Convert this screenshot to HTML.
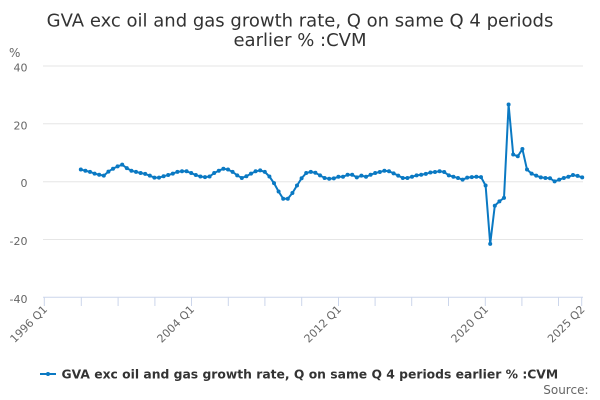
<!DOCTYPE html>
<html>
<head>
<meta charset="utf-8">
<style>
html,body{margin:0;padding:0;background:#fff;}
svg{display:block;}
text{font-family:"DejaVu Sans","Liberation Sans",sans-serif;}
</style>
</head>
<body>
<svg width="600" height="400" viewBox="0 0 600 400" xmlns="http://www.w3.org/2000/svg">
<defs>
<marker id="m" markerUnits="userSpaceOnUse" markerWidth="6" markerHeight="6" refX="3" refY="3" viewBox="0 0 6 6">
<circle cx="3" cy="3" r="2" fill="#0a79c3"/>
</marker>
</defs>
<rect width="600" height="400" fill="#fff"/>
<!-- title -->
<text x="300" y="26.5" text-anchor="middle" font-size="18" fill="#333">GVA exc oil and gas growth rate, Q on same Q 4 periods</text>
<text x="300" y="46" text-anchor="middle" font-size="18" fill="#333">earlier % :CVM</text>
<!-- y axis unit -->
<text x="9" y="57" font-size="12" fill="#666">%</text>
<!-- gridlines -->
<g stroke="#e6e6e6" stroke-width="1">
<line x1="43" y1="66" x2="583" y2="66"/>
<line x1="43" y1="123.8" x2="583" y2="123.8"/>
<line x1="43" y1="181.7" x2="583" y2="181.7"/>
<line x1="43" y1="239.5" x2="583" y2="239.5"/>
</g>
<!-- y labels -->
<g font-size="11" fill="#666" text-anchor="end">
<text x="27.5" y="71.5">40</text>
<text x="27.5" y="129.3">20</text>
<text x="27.5" y="187.2">0</text>
<text x="27.5" y="245">-20</text>
<text x="27.5" y="302.8">-40</text>
</g>
<!-- x axis -->
<line x1="43" y1="297.3" x2="583" y2="297.3" stroke="#ccd6eb" stroke-width="1"/>
<g stroke="#ccd6eb" stroke-width="1">
<line x1="44.3" y1="297" x2="44.3" y2="306"/>
<line x1="81.3" y1="297" x2="81.3" y2="306"/>
<line x1="118.1" y1="297" x2="118.1" y2="306"/>
<line x1="154.9" y1="297" x2="154.9" y2="306"/>
<line x1="191.5" y1="297" x2="191.5" y2="306"/>
<line x1="228.3" y1="297" x2="228.3" y2="306"/>
<line x1="264.9" y1="297" x2="264.9" y2="306"/>
<line x1="301.7" y1="297" x2="301.7" y2="306"/>
<line x1="338.5" y1="297" x2="338.5" y2="306"/>
<line x1="375.1" y1="297" x2="375.1" y2="306"/>
<line x1="411.7" y1="297" x2="411.7" y2="306"/>
<line x1="448.5" y1="297" x2="448.5" y2="306"/>
<line x1="485.3" y1="297" x2="485.3" y2="306"/>
<line x1="521.9" y1="297" x2="521.9" y2="306"/>
<line x1="558.5" y1="297" x2="558.5" y2="306"/>
<line x1="581.7" y1="297" x2="581.7" y2="306"/>
</g>
<g font-size="11" fill="#666" text-anchor="end">
<text transform="translate(48,310) rotate(-45)">1996 Q1</text>
<text transform="translate(195,310) rotate(-45)">2004 Q1</text>
<text transform="translate(342,310) rotate(-45)">2012 Q1</text>
<text transform="translate(489,310) rotate(-45)">2020 Q1</text>
<text transform="translate(585.5,310) rotate(-45)">2025 Q2</text>
</g>
<!-- series -->
<polyline fill="none" stroke="#0a79c3" stroke-width="2" stroke-linejoin="round" stroke-linecap="round"
marker-start="url(#m)" marker-mid="url(#m)" marker-end="url(#m)"
points="80.8,169.56 85.4,170.72 90,171.87 94.6,173.61 99.2,174.76 103.8,175.63 108.4,171.58 113,168.69 117.6,166.38 122.2,164.65 126.8,168.12 131.4,170.72 136,171.87 140.6,173.03 145.2,173.9 149.8,175.63 154.4,177.65 159,177.65 163.6,176.21 168.2,175.05 172.8,173.61 177.4,171.87 182,171.3 186.6,171.3 191.2,173.03 195.8,175.05 200.4,176.5 205,177.08 209.6,176.5 214.2,173.03 218.8,170.72 223.4,168.69 228,169.56 232.6,171.87 237.2,175.34 241.8,177.94 246.4,176.21 251,173.61 255.6,171.3 260.2,170.43 264.8,171.87 269.4,176.5 274,183.15 278.6,191.53 283.2,198.75 287.8,198.75 292.4,192.97 297,185.46 301.6,178.23 306.2,173.03 310.8,171.87 315.4,172.74 320,175.34 324.6,177.94 329.2,178.81 333.8,178.38 338.4,176.79 343,176.79 347.6,174.76 352.2,174.76 356.8,177.36 361.4,175.63 366,176.79 370.6,174.76 375.2,173.03 379.8,172.02 384.4,170.72 389,171.3 393.6,173.32 398.2,175.63 402.8,177.94 407.4,177.94 412,176.79 416.6,175.34 421.2,174.76 425.8,173.9 430.4,172.45 435,172.02 439.6,171.3 444.2,172.02 448.8,175.34 453.4,176.79 458,177.94 462.6,179.68 467.2,177.65 471.8,177.08 476.4,176.79 481,177.08 485.6,185.46 490.2,243.84 494.8,205.69 499.4,201.35 504,197.88 508.6,104.54 513.2,154.53 517.8,156.27 522.4,149.04 527,169.56 531.6,173.61 536.2,175.63 540.8,177.36 545.4,177.94 550,178.23 554.6,181.41 559.2,179.68 563.8,177.94 568.4,176.79 573,175.05 577.6,175.92 582.2,177.36"/>
<!-- legend -->
<line x1="40" y1="374" x2="56" y2="374" stroke="#0a79c3" stroke-width="2"/>
<circle cx="48" cy="374" r="2" fill="#0a79c3"/>
<text x="61.5" y="378.5" font-size="12.35" font-weight="bold" fill="#333">GVA exc oil and gas growth rate, Q on same Q 4 periods earlier % :CVM</text>
<text x="588.5" y="394" text-anchor="end" font-size="12" fill="#666">Source:</text>
</svg>
</body>
</html>
